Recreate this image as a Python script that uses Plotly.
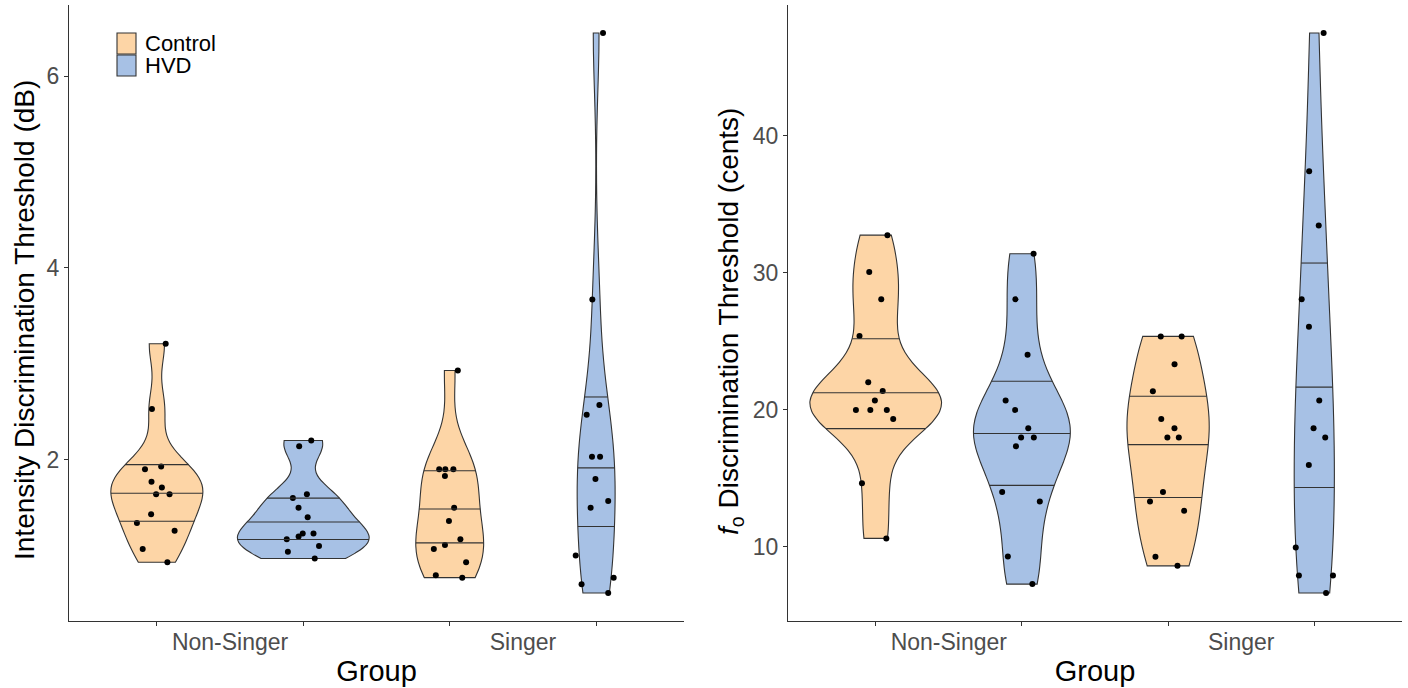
import numpy as np
import plotly.graph_objects as go

groups = ["Non-Singer", "Singer"]
conditions = ["Control", "HVD"]

# Intensity discrimination threshold (dB)
ctrl_ns_int = [3.21, 2.53, 1.93, 1.90, 1.77, 1.71, 1.64, 1.64, 1.43, 1.34, 1.26, 1.07, 0.93]
hvd_ns_int = [2.20, 2.14, 1.64, 1.60, 1.50, 1.40, 1.23, 1.23, 1.20, 1.17, 1.10, 1.04, 0.97]
ctrl_s_int = [2.93, 1.90, 1.90, 1.90, 1.83, 1.50, 1.36, 1.17, 1.11, 1.07, 0.93, 0.795, 0.77]
hvd_s_int = [6.45, 3.67, 2.57, 2.47, 2.03, 2.03, 1.80, 1.57, 1.50, 1.00, 0.77, 0.70, 0.61]

# fo discrimination threshold (cents)
ctrl_ns_f0 = [32.73, 30.04, 28.05, 25.38, 22.0, 21.37, 20.67, 19.99, 19.99, 19.99, 19.33, 14.65, 10.62]
hvd_ns_f0 = [31.38, 28.05, 24.02, 20.67, 19.99, 18.65, 17.97, 17.97, 17.34, 14.01, 13.31, 9.31, 7.29]
ctrl_s_f0 = [25.35, 25.35, 23.31, 21.35, 19.33, 18.65, 17.97, 17.97, 14.01, 13.31, 12.63, 9.28, 8.62]
hvd_s_f0 = [47.47, 37.39, 33.44, 28.05, 26.06, 20.67, 18.65, 17.97, 15.98, 9.96, 7.92, 7.92, 6.64]

y_titles = ["Intensity Discrimination Threshold (dB)",
            "<i>f</i><sub>o</sub> Discrimination Threshold (cents)"]
y_ticks = [[2, 4, 6], [10, 20, 30, 40]]

panels = [
    {"Non-Singer": {"Control": ctrl_ns_int, "HVD": hvd_ns_int},
     "Singer": {"Control": ctrl_s_int, "HVD": hvd_s_int}},
    {"Non-Singer": {"Control": ctrl_ns_f0, "HVD": hvd_ns_f0},
     "Singer": {"Control": ctrl_s_f0, "HVD": hvd_s_f0}},
]

fills = {"Control": "#FDD5A6", "HVD": "#A7C1E5"}
edge = "#333333"
dodge = {"Control": -0.25, "HVD": 0.25}
vwidth = 0.45
quants = [0.25, 0.5, 0.75]


def nrd0(x):
    x = np.asarray(x, float)
    sd = np.std(x, ddof=1)
    q75, q25 = np.percentile(x, [75, 25])
    lo = min(sd, (q75 - q25) / 1.34)
    if lo <= 0:
        lo = sd if sd > 0 else 1.0
    return 0.9 * lo * len(x) ** -0.2


def kde(x, bw, grid):
    x = np.asarray(x, float)
    z = (grid[:, None] - x[None, :]) / bw
    return np.exp(-0.5 * z ** 2).sum(1) / (len(x) * bw * np.sqrt(2 * np.pi))


fig = go.Figure()
font = "Liberation Sans, Arial, sans-serif"
clear = "rgba(0,0,0,0)"

for p, panel in enumerate(panels):
    xa = "x" if p == 0 else "x2"
    ya = "y" if p == 0 else "y2"
    dens_info = {}
    pmax = 0
    for gi, g in enumerate(groups):
        for c in conditions:
            v = np.asarray(panel[g][c], float)
            bw = nrd0(v)
            grid = np.linspace(v.min(), v.max(), 512)
            d = kde(v, bw, grid)
            dens_info[(g, c)] = (bw, grid, d)
            pmax = max(pmax, d.max())
    for gi, g in enumerate(groups):
        for c in conditions:
            v = panel[g][c]
            pos = gi + 1 + dodge[c]
            bw, grid, d = dens_info[(g, c)]
            # area scaling (ggplot default): width relative to the panel's densest violin
            own_w = vwidth * d.max() / pmax
            fig.add_trace(go.Violin(
                x=[pos] * len(v), y=v, name=c, legendgroup=c, showlegend=False,
                fillcolor=fills[c], opacity=1,
                line=dict(color=edge, width=1.1),
                width=own_w, spanmode="hard", bandwidth=bw,
                scalemode="width", scalegroup="%s-%d-%s" % (c, p, g),
                points=False, box_visible=False, meanline_visible=False,
                hoverinfo="skip", xaxis=xa, yaxis=ya))
            # jittered points (box trace drawn above violins, box itself invisible)
            fig.add_trace(go.Box(
                x=[pos] * len(v), y=v, name=c, showlegend=False,
                width=0.3, boxpoints="all", jitter=0.55, pointpos=0,
                fillcolor=clear, line=dict(color=clear, width=0),
                marker=dict(color="black", size=6, line=dict(width=0)),
                xaxis=xa, yaxis=ya))
            cdf = np.cumsum(d) / d.sum()
            qx, qy = [], []
            for q in quants:
                yq = np.interp(q, cdf, grid)
                hw = np.interp(yq, grid, d) / pmax * vwidth / 2
                qx += [pos - hw, pos + hw, None]
                qy += [yq, yq, None]
            fig.add_trace(go.Scatter(
                x=qx, y=qy, mode="lines", line=dict(color=edge, width=1.1),
                showlegend=False, hoverinfo="skip", xaxis=xa, yaxis=ya))

x_domains = [[69 / 1408, 684 / 1408], [788 / 1408, 1402 / 1408]]
y_domain = [1 - 621 / 688, 1 - 5 / 688]

# manual legend (ggplot-style square keys)
shapes, annotations = [], []
key_x0, key_x1 = 117 / 1408, 136 / 1408
for i, c in enumerate(conditions):
    top = 33 + 22 * i
    shapes.append(dict(type="rect", xref="paper", yref="paper",
                       x0=key_x0, x1=key_x1, y0=1 - (top + 21) / 688, y1=1 - top / 688,
                       fillcolor=fills[c], line=dict(color=edge, width=1.1)))
    annotations.append(dict(text=c, xref="paper", yref="paper",
                            x=143 / 1408, y=1 - (top + 10.5) / 688,
                            xanchor="left", yanchor="middle", showarrow=False,
                            font=dict(size=22, color="black", family=font)))

# y-axis titles
title_pos = [(25, 320), (731, 322)]
for p in range(2):
    annotations.append(dict(text=y_titles[p], xref="paper", yref="paper",
                            x=title_pos[p][0] / 1408, y=1 - title_pos[p][1] / 688,
                            xanchor="center", yanchor="middle", textangle=-90,
                            showarrow=False,
                            font=dict(size=28, color="black", family=font)))

layout = dict(
    width=1408, height=688,
    margin=dict(l=0, r=0, t=0, b=0),
    paper_bgcolor="white", plot_bgcolor="white",
    violinmode="overlay", boxmode="overlay", showlegend=False,
    font=dict(family=font, color="#4D4D4D"),
    shapes=shapes, annotations=annotations,
)

for p in range(2):
    allv = np.concatenate([np.asarray(panels[p][g][c], float)
                           for g in groups for c in conditions])
    lo, hi = allv.min(), allv.max()
    pad = 0.05 * (hi - lo)
    xkey = "xaxis" if p == 0 else "xaxis2"
    ykey = "yaxis" if p == 0 else "yaxis2"
    layout[xkey] = dict(
        domain=x_domains[p], anchor="y" if p == 0 else "y2",
        type="linear", range=[0.45, 2.55],
        tickmode="array", tickvals=[1, 2], ticktext=groups, ticks="",
        minor=dict(tickmode="array",
                   tickvals=[gi + 1 + dodge[c] for gi in range(2) for c in conditions],
                   ticks="outside", ticklen=4, tickcolor="#333333", tickwidth=1),
        showline=True, linecolor="#333333", linewidth=1.2,
        showgrid=False, zeroline=False,
        tickfont=dict(size=23, color="#4D4D4D", family=font),
        title=dict(text="Group", font=dict(size=29, color="black", family=font), standoff=6),
    )
    layout[ykey] = dict(
        domain=y_domain, anchor="x" if p == 0 else "x2",
        range=[lo - pad, hi + pad],
        tickmode="array", tickvals=y_ticks[p],
        ticks="outside", ticklen=4, tickcolor="#333333", tickwidth=1,
        showline=True, linecolor="#333333", linewidth=1.2,
        showgrid=False, zeroline=False,
        tickfont=dict(size=23, color="#4D4D4D", family=font),
    )

fig.update_layout(**layout)
fig.write_html("out.html")
